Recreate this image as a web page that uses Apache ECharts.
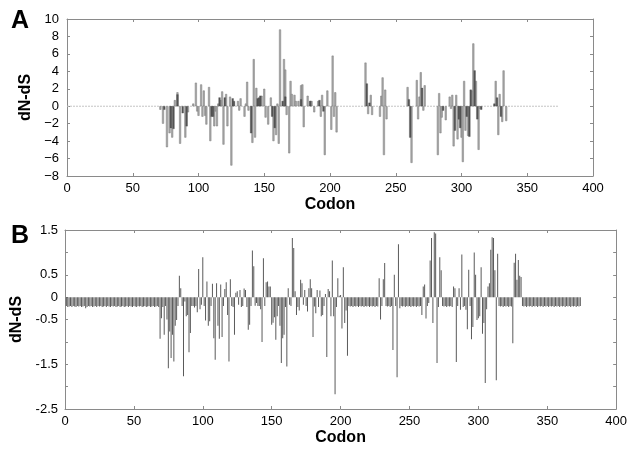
<!DOCTYPE html>
<html>
<head>
<meta charset="utf-8">
<script src="https://cdn.jsdelivr.net/npm/echarts@6/dist/echarts.min.js"></script>
<style>
  html, body { margin: 0; padding: 0; background: #fff; }
  #chart { width: 630px; height: 453px; }
</style>
</head>
<body>
<div id="chart"></div>
<script>
// ---------------- DATA ----------------
// Panel A: [codon, dN-dS] for light grey bars
const barsALight = [
  [71,-0.4],[73,-2.0],[76,-4.7],[78,-3.1],[80,-3.6],[82,0.7],[84,1.6],[86,-4.3],[90,-3.6],[92,-0.7],
  [96,0.3],[98,2.7],[99,-0.6],[100,-1.1],[102,2.5],[103,-1.2],[104,1.8],[105,-1.1],[106,-2.1],[108,2.2],
  [109,-4.0],[112,-2.3],[113,-0.6],[114,-2.3],[115,0.3],[117,0.7],[118,1.7],[119,-4.4],[121,1.4],[122,-2.3],
  [124,1.1],[125,-6.8],[130,0.6],[131,-0.5],[132,0.9],[135,-1.2],[136,0.3],[137,2.8],[138,-0.5],[141,-4.2],
  [142,5.4],[143,-3.6],[144,2.1],[148,1.2],[150,2.0],[151,-1.3],[153,-2.1],[155,1.0],[157,-4.0],[159,-3.3],
  [160,0.3],[161,-4.3],[162,8.8],[165,5.4],[166,4.2],[167,-1.0],[169,-5.4],[170,2.9],[171,1.4],[173,1.3],
  [174,0.6],[176,0.6],[178,2.4],[179,2.5],[180,-2.4],[183,1.2],[185,0.6],[186,0.6],[188,-0.7],[191,0.6],
  [193,-1.2],[194,1.3],[196,-5.6],[198,1.8],[201,-2.7],[202,5.8],[203,-1.2],[204,1.6],[205,-3.0],
  [227,5.0],[229,-0.9],[231,1.3],[232,-1.0],[238,-1.2],[239,1.2],[240,3.3],[241,-5.6],[242,1.9],[243,-1.5],
  [259,2.2],[262,-6.5],[266,3.0],[267,-1.5],[268,1.1],[269,3.9],[271,-0.5],[272,2.4],
  [282,-5.6],[283,1.5],[284,-3.1],[285,-1.3],[288,-1.6],[291,1.1],[292,-0.3],[293,1.3],[294,-4.6],[296,1.3],
  [297,-3.8],[300,-3.6],[301,-6.4],[302,2.9],[303,-2.8],[305,-3.4],[308,1.8],[309,7.2],[311,2.9],[313,-5.0],
  [314,-0.3],[326,2.9],[328,-3.3],[329,1.4],[331,-1.8],[332,4.1],[334,-1.7]
];
// Panel A: [codon, dN-dS] for dark grey bars
const barsADark = [
  [74,-0.4],[79,-2.5],[81,-2.6],[84,1.35],[88,-0.8],[91,-2.3],[110,-1.2],[111,-1.2],[116,1.0],[120,1.0],
  [126,0.9],[127,0.6],[140,-3.1],[145,0.9],[146,1.0],[147,1.2],[156,-1.2],[158,-2.5],[164,0.6],[166,1.1],
  [178,0.8],[185,0.6],[192,0.7],[195,-0.6],[228,2.6],[230,0.4],[260,0.8],[261,-3.6],[270,2.1],[286,-0.5],
  [295,-2.8],[298,-1.5],[299,-2.5],[304,-1.2],[306,-3.5],[307,1.9],[310,4.1],[312,-1.5],[315,-0.4],[325,0.3],
  [327,1.0],[330,-1.2]
];
// Panel A: extent of the dotted zero line (codons)
const zeroLineA = [0, 374];

// Panel B: dN-dS for every codon, starting at codon 1
const firstCodonB = 1;
const valuesB = [
  -0.2,-0.22,-0.21,-0.2,-0.22,-0.2,-0.21,-0.22,-0.2,-0.21,
  -0.2,-0.22,-0.21,-0.2,-0.25,-0.22,-0.2,-0.21,-0.2,-0.22,
  -0.21,-0.2,-0.22,-0.2,-0.21,-0.2,-0.22,-0.21,-0.2,-0.22,
  -0.2,-0.21,-0.22,-0.2,-0.21,-0.2,-0.22,-0.21,-0.2,-0.22,
  -0.21,-0.2,-0.22,-0.21,-0.2,-0.22,-0.2,-0.21,-0.22,-0.2,
  -0.21,-0.22,-0.2,-0.21,-0.2,-0.22,-0.21,-0.2,-0.22,-0.21,
  -0.2,-0.22,-0.21,-0.2,-0.22,-0.21,-0.2,-0.22,
  // 69..
  -0.93,-0.47,-0.22,-0.84,-0.2,-0.5,-1.59,-0.77,-1.36,-0.84,
  // 79..
  -1.44,-0.64,-0.51,-0.2,0.48,0.2,-0.2,-1.77,-0.1,-0.43,
  // 89..
  -0.4,-1.23,-0.8,-0.2,-0.2,-0.23,-0.2,-0.34,0.63,-0.27,
  // 99..
  -0.17,0.89,-0.2,-0.52,0.35,-0.64,-0.54,-0.2,0.3,-0.92,
  // 109..
  -1.4,0.31,-0.64,-0.93,0.28,-0.89,-0.2,0.18,0.33,-0.4,
  // 119..
  -1.44,0.4,-0.2,-0.22,-0.84,0.1,0.13,-0.17,0.16,-0.22,
  // 129..
  -0.2,0.19,0.16,-0.22,-0.73,-0.62,-0.2,1.04,0.69,-0.19,
  // 139..
  -0.13,-0.2,-0.2,-0.27,-1.0,0.87,-0.2,0.33,0.35,0.24,
  // 149..
  0.24,-0.62,-0.57,-0.45,-0.95,-0.43,-0.2,-0.64,-1.47,-0.92,
  // 159..
  -0.84,-0.22,-1.55,0.2,-0.17,-0.2,1.32,1.1,0.13,-0.4,
  // 169..
  -0.22,-0.3,0.39,0.31,-0.17,0.16,-0.2,-0.32,0.2,0.4,
  // 179..
  0.2,-0.89,-0.21,-0.36,0.16,-0.22,0.15,-0.43,-0.4,-0.2,
  // 189..
  0.07,-1.34,0.18,0.13,-0.43,0.82,-0.43,-2.17,-0.22,0.42,
  // 199..
  0.03,0.05,-0.7,0.67,-0.58,-0.3,-1.31,-0.2,-0.21,-0.2,
  // 209..
  -0.22,-0.2,-0.21,-0.2,-0.22,-0.2,-0.21,-0.2,-0.22,-0.2,
  // 219..
  -0.21,-0.2,-0.22,-0.2,-0.21,-0.2,-0.22,-0.2,-0.21,0.42,
  // 229..
  -0.5,-0.2,0.4,0.76,-0.2,-0.21,-0.2,-0.22,-0.2,-1.18,
  // 239..
  0.5,-0.2,-1.79,1.18,-0.25,-0.2,-0.21,-0.2,-0.22,-0.2,
  // 249..
  -0.21,-0.2,-0.22,-0.2,-0.21,-0.2,-0.22,-0.2,-0.21,-0.2,
  // 259..
  -0.4,0.24,0.28,-0.48,-0.2,-0.13,0.82,1.32,-0.58,1.45,
  // 269..
  1.42,-1.47,-0.22,0.89,0.6,-0.2,-0.21,-0.2,-0.22,-0.2,
  // 279..
  -0.21,-0.2,-0.22,0.24,0.2,-1.45,-0.2,0.2,-0.28,0.95,
  // 289..
  -0.22,-0.2,-0.28,-0.72,0.61,-0.2,-0.94,-0.67,1.0,0.5,
  // 299..
  -0.51,-0.47,-0.43,0.67,-0.82,-0.58,-1.92,-0.27,0.24,0.31,
  // 309..
  1.06,1.34,1.32,0.6,-1.86,0.97,-0.2,-0.21,-0.2,-0.22,
  // 319..
  -0.2,-0.21,-0.2,-0.22,-0.2,-0.21,-1.03,0.77,0.97,0.39,
  // 329..
  0.83,0.48,0.45,-0.2,-0.21,-0.2,-0.22,-0.2,-0.21,-0.2,
  // 339..
  -0.22,-0.2,-0.21,-0.2,-0.22,-0.2,-0.21,-0.2,-0.22,-0.2,
  // 349..
  -0.21,-0.2,-0.22,-0.2,-0.21,-0.2,-0.22,-0.2,-0.21,-0.2,
  // 359..
  -0.22,-0.2,-0.21,-0.2,-0.22,-0.2,-0.21,-0.2,-0.22,-0.2,
  // 369..
  -0.21,-0.2,-0.22,-0.2,-0.21,-0.2
];

// Tick labels shown on panel B's y axis
const yTicksB = ['1.5', '0.5', '0', '-0.5', '-1.5', '-2.5'];

// ---------------- CHART ----------------
const dataB = valuesB.map((v, i) => [firstCodonB + i, v]);
const FONT = 'Liberation Sans, Arial, Helvetica, sans-serif';
const axisCol = '#8a8a8a';

function xAx(grid, pos, showLabel) {
  return {
    type: 'value', gridIndex: grid, position: pos, min: 0, max: 400, interval: 50,
    axisLine: { show: true, onZero: false, lineStyle: { color: axisCol, width: 1 } },
    axisTick: { show: true, inside: true, length: 3, lineStyle: { color: axisCol } },
    splitLine: { show: false },
    axisLabel: { show: showLabel, color: '#000', fontSize: 13, fontFamily: FONT, margin: 6 },
    name: showLabel ? 'Codon' : '', nameLocation: 'middle', nameGap: 21,
    nameTextStyle: { fontSize: 16, fontWeight: 'bold', color: '#000', fontFamily: FONT }
  };
}

const chart = echarts.init(document.getElementById('chart'), null, { renderer: 'canvas' });
chart.setOption({
  animation: false,
  backgroundColor: '#fff',
  title: [
    { text: 'A', left: 6, top: 4, textStyle: { fontSize: 25, fontWeight: 'bold', color: '#000', fontFamily: FONT } },
    { text: 'B', left: 6, top: 219, textStyle: { fontSize: 25, fontWeight: 'bold', color: '#000', fontFamily: FONT } }
  ],
  grid: [
    { left: 67, top: 19, width: 526, height: 157 },
    { left: 65, top: 230, width: 557, height: 179 }
  ],
  xAxis: [
    xAx(0, 'bottom', true), xAx(0, 'top', false),
    xAx(1, 'bottom', true), xAx(1, 'top', false)
  ],
  yAxis: [
    {
      type: 'value', gridIndex: 0, position: 'left', min: -8, max: 10, interval: 2,
      axisLine: { show: true, onZero: false, lineStyle: { color: axisCol } },
      axisTick: { show: true, inside: true, length: 3, lineStyle: { color: axisCol } },
      splitLine: { show: false },
      axisLabel: { color: '#000', fontSize: 13, fontFamily: FONT, margin: 8,
        formatter: v => String(v).replace('-', '\u2212') },
      name: 'dN-dS', nameLocation: 'middle', nameGap: 29, nameRotate: 90,
      nameTextStyle: { fontSize: 16, fontWeight: 'bold', color: '#000', fontFamily: FONT }
    },
    {
      type: 'value', gridIndex: 0, position: 'right', min: -8, max: 10, interval: 2,
      axisLine: { show: true, onZero: false, lineStyle: { color: axisCol } },
      axisTick: { show: true, inside: true, length: 3, lineStyle: { color: axisCol } },
      splitLine: { show: false }, axisLabel: { show: false }
    },
    {
      type: 'value', gridIndex: 1, position: 'left', min: -2.5, max: 1.5, interval: 0.5,
      axisLine: { show: true, onZero: false, lineStyle: { color: axisCol } },
      axisTick: { show: true, inside: true, length: 3, lineStyle: { color: axisCol } },
      splitLine: { show: false },
      axisLabel: { color: '#000', fontSize: 13, fontFamily: FONT, margin: 7,
        formatter: v => { const s = String(v); return yTicksB.includes(s) ? s : ''; } },
      name: 'dN-dS', nameLocation: 'middle', nameGap: 30, nameRotate: 90,
      nameTextStyle: { fontSize: 16, fontWeight: 'bold', color: '#000', fontFamily: FONT }
    },
    {
      type: 'value', gridIndex: 1, position: 'right', min: -2.5, max: 1.5, interval: 0.5,
      axisLine: { show: true, onZero: false, lineStyle: { color: axisCol } },
      axisTick: { show: true, inside: true, length: 3, lineStyle: { color: axisCol } },
      splitLine: { show: false }, axisLabel: { show: false }
    }
  ],
  series: [
    {
      type: 'line', xAxisIndex: 0, yAxisIndex: 0, symbol: 'none', z: 1,
      data: [[zeroLineA[0], 0], [zeroLineA[1], 0]],
      lineStyle: { color: '#c4c4c4', width: 1, type: [2, 1] }
    },
    {
      type: 'bar', xAxisIndex: 0, yAxisIndex: 0, barWidth: 2, barGap: '-100%', z: 2,
      data: barsALight,
      itemStyle: { color: '#a9a9a9', borderColor: '#7a7a7a', borderWidth: 0.5 }
    },
    {
      type: 'bar', xAxisIndex: 0, yAxisIndex: 0, barWidth: 2, barGap: '-100%', z: 3,
      data: barsADark,
      itemStyle: { color: '#555555', borderColor: '#444', borderWidth: 0.3 }
    },
    {
      type: 'bar', xAxisIndex: 2, yAxisIndex: 2, barWidth: 1, z: 2,
      data: dataB,
      itemStyle: { color: '#5a5a5a' }
    }
  ]
});
</script>
</body>
</html>
